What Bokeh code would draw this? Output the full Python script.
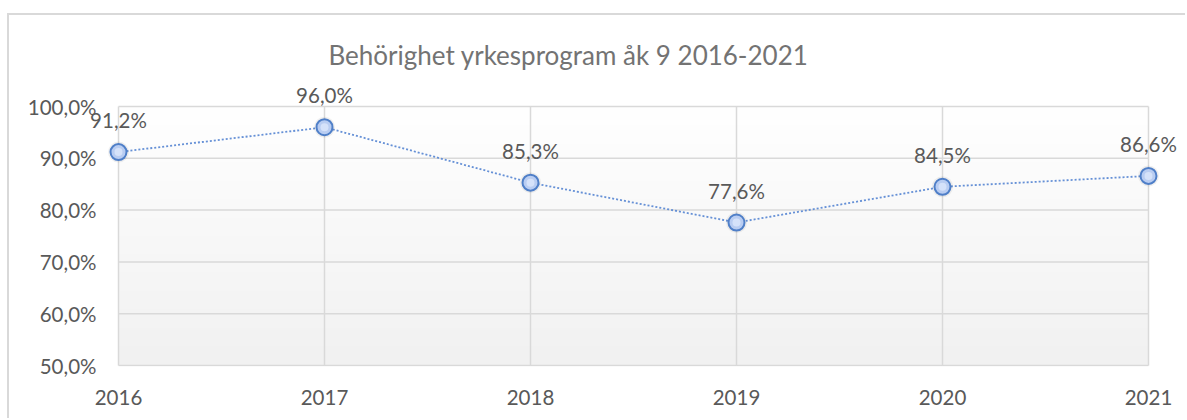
import numpy as np
from bokeh.plotting import figure
from bokeh.models import (Range1d, ColumnDataSource, LabelSet, CustomJSTickFormatter,
                          FixedTicker, Title)
from bokeh.core.properties import value
from bokeh.embed import file_html
from bokeh.resources import INLINE

# ---- data ----
years = [2016, 2017, 2018, 2019, 2020, 2021]
shares = [91.2, 96.0, 85.3, 77.6, 84.5, 86.6]
y_ticks = [50, 60, 70, 80, 90, 100]
title_text = "Behörighet yrkesprogram åk 9 2016-2021"
point_labels = [f"{v:.1f}".replace(".", ",") + "%" for v in shares]

FONT = "Lato"
TXT = "#595959"
GRID = "#d9d9d9"

# ---- geometry (pixels) ----
OX, OY = 9, 15                 # canvas origin on page (after css margin + border)
W, H = 1187 - OX, 420 - OY
BOX_L, BOX_R, BOX_T, BOX_B = 118, 1148, 106, 365   # plot-area box on page
FR_L, FR_R, FR_T, FR_B = 86, 1182, 84, 366          # frame on page
px_x = (BOX_R - BOX_L) / (years[-1] - years[0])
px_y = (BOX_B - BOX_T) / (y_ticks[-1] - y_ticks[0])
x0 = years[0] - (BOX_L - FR_L) / px_x
x1 = years[-1] + (FR_R - BOX_R) / px_x
y0 = y_ticks[0] - (FR_B - BOX_B) / px_y
y1 = y_ticks[-1] + (BOX_T - FR_T) / px_y

p = figure(width=W, height=H, output_backend="svg", toolbar_location=None,
           x_range=Range1d(x0, x1), y_range=Range1d(y0, y1),
           min_border_left=FR_L - OX, min_border_right=1187 - FR_R,
           min_border_top=FR_T - OY, min_border_bottom=420 - FR_B,
           outline_line_color=None, background_fill_color="white", border_fill_color="white",
           styles={"margin-left": "7px", "margin-top": "13px",
                   "border-top": "2px solid #d9d9d9", "border-left": "2px solid #d9d9d9"})
p.grid.visible = False

# plot-area gradient (white at top -> light gray at bottom)
n = 260
img = np.empty((n, 1), dtype=np.uint32)
view = img.view(dtype=np.uint8).reshape((n, 1, 4))
t = np.linspace(0, 1, n)  # 0 bottom -> 1 top
g = (241 + (255 - 241) * t).astype(np.uint8)
view[:, 0, 0] = g
view[:, 0, 1] = g
view[:, 0, 2] = g
view[:, 0, 3] = 255
p.image_rgba(image=[img], x=years[0], y=y_ticks[0], dw=years[-1] - years[0],
             dh=y_ticks[-1] - y_ticks[0])

# grid lines / plot-area box
p.segment(x0=[years[0]] * len(y_ticks), x1=[years[-1]] * len(y_ticks), y0=y_ticks, y1=y_ticks,
          line_color=GRID, line_width=1.5)
p.segment(x0=years, x1=years, y0=[y_ticks[0]] * len(years), y1=[y_ticks[-1]] * len(years),
          line_color=GRID, line_width=1.5)

src = ColumnDataSource(dict(x=years, y=shares, lab=point_labels))
p.line("x", "y", source=src, line_color="#6590d6", line_width=1.8, line_dash="2 2")
# soft shadow / halo, marker and highlight
p.scatter("x", "y", source=src, size=21, fill_color="black", fill_alpha=0.06, line_color=None)
p.scatter("x", "y", source=src, size=16, fill_color="#b9cdf2", line_color="#4f7fc8",
          line_width=2)
p.scatter("x", "y", source=src, size=8, fill_color="#dce7fb", fill_alpha=0.8, line_color=None)

labels = LabelSet(x="x", y="y", text="lab", source=src, text_align="center",
                  text_baseline="alphabetic", y_offset=24, text_font=value(FONT),
                  text_font_size="20.5px", text_color=TXT)
p.add_layout(labels)

# axes
for ax in (p.xaxis[0], p.yaxis[0]):
    ax.axis_line_color = None
    ax.major_tick_line_color = None
    ax.minor_tick_line_color = None
    ax.major_tick_in = 0
    ax.major_tick_out = 0
    ax.major_label_text_font = FONT
    ax.major_label_text_font_size = "20.5px"
    ax.major_label_text_color = TXT
p.xaxis.ticker = FixedTicker(ticks=years)
p.yaxis.ticker = FixedTicker(ticks=y_ticks)
p.xaxis.major_label_standoff = 23
p.yaxis.major_label_standoff = -10
p.yaxis.formatter = CustomJSTickFormatter(code="return tick.toFixed(1).replace('.', ',') + '%';")

p.title = Title(text=title_text, align="left", offset=242, standoff=28, text_font=FONT,
                text_font_size="26px", text_font_style="normal", text_color="#737373")

open("out.html", "w").write(file_html(p, INLINE))
